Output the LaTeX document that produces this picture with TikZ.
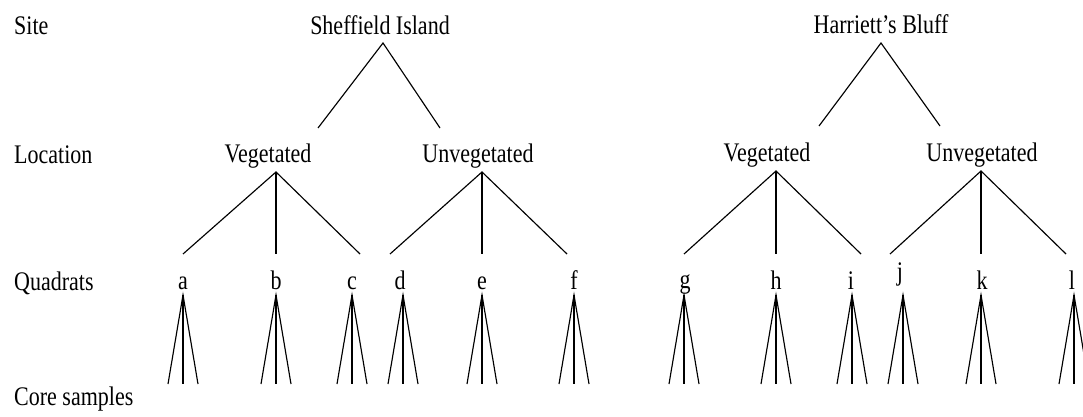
\documentclass[tikz,border=0pt]{standalone}
\usepackage{graphicx}
\usepackage{fontspec}
\setmainfont{Liberation Serif}
\newcommand{\tallt}[1]{\scalebox{1}[1.22]{#1}}
\begin{document}
\begin{tikzpicture}[x=1pt,y=-1pt,
  edge/.style={line width=1.15pt, line cap=butt, line join=miter},
  lbl/.style={anchor=base west, inner sep=0pt, font=\fontsize{22}{26}\selectfont},
  txt/.style={anchor=base, inner sep=0pt, font=\fontsize{22}{26}\selectfont}]
\useasboundingbox (0,0) rectangle (1083,417);
\clip (0,0) rectangle (1083,417);

% level labels
\node[lbl] (site) at (14,35) {\tallt{Site}};
\node[lbl] (location) at (14,163) {\tallt{Location}};
\node[lbl] (quadrats) at (14,290) {\tallt{Quadrats}};
\node[lbl] (cores) at (14,405) {\tallt{Core samples}};

% site nodes
\node[txt] (si) at (380,35) {\tallt{Sheffield Island}};
\node[txt] (hb) at (881,34) {\tallt{Harriett’s Bluff}};

% location nodes
\node[txt] (siv) at (268,162) {\tallt{Vegetated}};
\node[txt] (siu) at (478,162) {\tallt{Unvegetated}};
\node[txt] (hbv) at (767,161) {\tallt{Vegetated}};
\node[txt] (hbu) at (982,161) {\tallt{Unvegetated}};

% connector end points
\coordinate (si-t) at (383,43);
\coordinate (si-l) at (318,128);
\coordinate (si-r) at (440,128);
\coordinate (hb-t) at (881,43);
\coordinate (hb-l) at (819,126);
\coordinate (hb-r) at (940,126);

\coordinate (siv-t) at (276,172);
\coordinate (siv-l) at (183,254);
\coordinate (siv-m) at (276,254);
\coordinate (siv-r) at (360,254);
\coordinate (siu-t) at (482,172);
\coordinate (siu-l) at (390,254);
\coordinate (siu-m) at (482,254);
\coordinate (siu-r) at (567,254);
\coordinate (hbv-t) at (776,171);
\coordinate (hbv-l) at (684,254);
\coordinate (hbv-m) at (776,254);
\coordinate (hbv-r) at (861,254);
\coordinate (hbu-t) at (981,171);
\coordinate (hbu-l) at (890,254);
\coordinate (hbu-m) at (981,254);
\coordinate (hbu-r) at (1066,254);

\draw[edge] (si-l) -- (si-t) -- (si-r);
\draw[edge] (hb-l) -- (hb-t) -- (hb-r);
\foreach \p in {siv,siu,hbv,hbu}{
  \draw[edge] (\p-l) -- (\p-t) -- (\p-r);
  \draw[edge] (\p-t) -- (\p-m);
}

% quadrat letters
\foreach \n/\x/\y in {a/183/289,b/276/289,c/352/289,d/400/289,e/482/289,f/574/289,
                      g/685/288,h/776/289,i/851/289,j/900/280,k/982/289,l/1072/289}{
  \node[txt] (q\n) at (\x,\y) {\tallt{\n}};
}

% core sample fans
\foreach \n/\x in {a/183,b/276,c/352,d/403,e/482,f/574,g/684,h/776,i/852,j/903,k/981,l/1074}{
  \coordinate (f\n-t) at (\x,295);
  \coordinate (f\n-l) at (\x-15,384);
  \coordinate (f\n-m) at (\x,384);
  \coordinate (f\n-r) at (\x+15,384);
  \draw[edge] (f\n-l) -- (f\n-t) -- (f\n-r);
  \draw[edge] (f\n-t) -- (f\n-m);
}
\end{tikzpicture}
\end{document}
